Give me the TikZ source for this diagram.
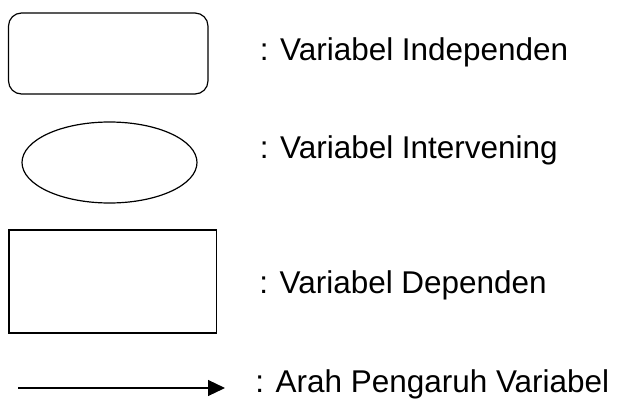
\documentclass[tikz,border=0pt]{standalone}
\usepackage{fontspec}
\setmainfont{Liberation Sans}
\usetikzlibrary{arrows.meta,shapes.geometric}
\begin{document}
\begin{tikzpicture}[x=0.75pt,y=-0.75pt,
  shp/.style={draw=black,line width=0.9pt,inner sep=0pt,outer sep=0pt},
  lbl/.style={anchor=base west,inner sep=0pt,font=\fontsize{23.6}{28}\selectfont},
  conn/.style={line width=0.9pt,-{Triangle[length=12.75pt,width=12pt]}}]
\useasboundingbox (0,0) rectangle (622,400);
% shapes
\node[shp,rounded corners=9.75pt,minimum width=149.6pt,minimum height=60.75pt] (indep) at (108.25,53.5) {};
\node[shp,ellipse,minimum width=131.25pt,minimum height=60.75pt] (interv) at (109.5,162.5) {};
\node[shp,rectangle,minimum width=155.6pt,minimum height=77.25pt] (dep) at (112.75,281.5) {};
\coordinate (a1) at (18,388);
\coordinate (a2) at (225,388);
\draw[conn] (a1) -- (a2);
% labels
\node[lbl] (t1) at (259.5,60) {: Variabel Independen};
\node[lbl] (t2) at (259.5,158.5) {: Variabel Intervening};
\node[lbl] (t3) at (259,293.5) {: Variabel Dependen};
\node[lbl] (t4) at (255,392.5) {: Arah Pengaruh Variabel};
\end{tikzpicture}
\end{document}
